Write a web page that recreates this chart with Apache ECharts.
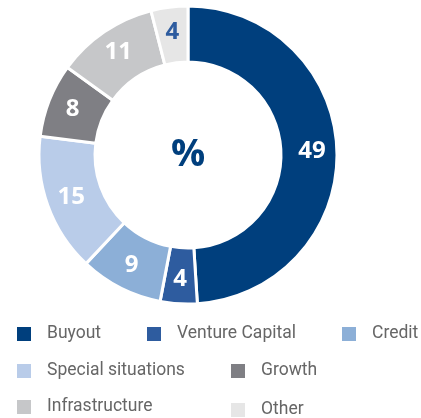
<!DOCTYPE html>
<html>
<head>
<meta charset="utf-8">
<script src="https://cdn.jsdelivr.net/npm/echarts@6/dist/echarts.min.js"></script>
<style>html,body{margin:0;padding:0;background:#fff;}#c{width:421px;height:418px;}</style>
</head>
<body>
<div id="c"></div>
<script>
const categories = ['Buyout','Venture Capital','Credit','Special situations','Growth','Infrastructure','Other'];
const values = [49, 4, 9, 15, 8, 11, 4];
const colors = ['#003f7d','#2e5c9f','#8cafd7','#b9cce9','#7f7f84','#c6c7c9','#e6e6e6'];
const labelColors = ['#fff','#fff','#fff','#fff','#fff','#fff','#2e5c9f'];
const legendPos = [[15,325],[145,325],[340,325],[15,362],[229,362],[15,398],[229,401]];

const chart = echarts.init(document.getElementById('c'));
const legends = categories.map((name, i) => ({
  data: [name],
  left: legendPos[i][0],
  top: legendPos[i][1],
  orient: 'horizontal',
  icon: 'rect',
  itemWidth: 16,
  itemHeight: 16,
  itemGap: 0,
  padding: 0,
  selectedMode: false,
  textStyle: { fontFamily: 'Roboto', fontSize: 17.5, color: '#666', padding: [0,0,0,10] }
}));
chart.setOption({
  animation: false,
  color: colors,
  legend: legends,
  graphic: [{
    type: 'text', left: 171, top: 136,
    style: { text: '%', fontFamily: 'Open Sans', fontWeight: 'bold', fontSize: 38, fill: '#003f7d' }
  }],
  series: [{
    type: 'pie',
    center: [188, 155],
    radius: [93, 149],
    startAngle: 90,
    clockwise: true,
    avoidLabelOverlap: false,
    itemStyle: { borderColor: '#fff', borderWidth: 3 },
    label: { show: true, position: 'inside', formatter: '{c}', fontFamily: 'Open Sans', fontWeight: 'bold', fontSize: 24 },
    labelLine: { show: false },
    emphasis: { disabled: true },
    data: categories.map((name, i) => ({ name, value: values[i], label: { color: labelColors[i] } }))
  }]
});
</script>
</body>
</html>
